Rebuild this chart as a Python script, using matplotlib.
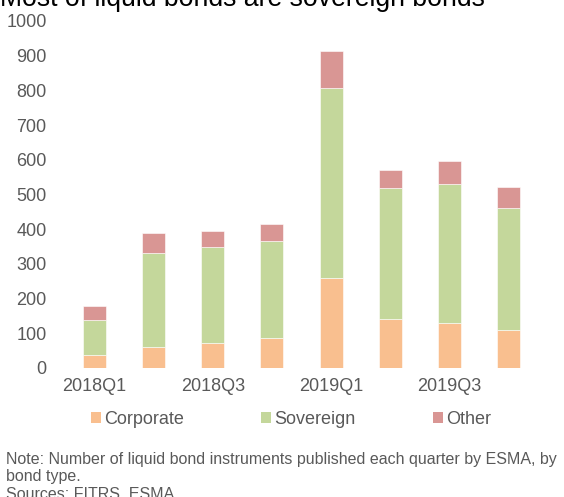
import numpy as np
import matplotlib.pyplot as plt
from matplotlib.patches import Patch

plt.rcParams['font.family'] = ['Liberation Sans', 'DejaVu Sans']

quarters = ['2018Q1', '2018Q2', '2018Q3', '2018Q4', '2019Q1', '2019Q2', '2019Q3', '2019Q4']
corporate = [38, 61, 72, 87, 258, 140, 130, 110]
sovereign = [99, 270, 277, 279, 550, 378, 399, 350]
other = [41, 57, 46, 49, 106, 52, 68, 61]

series = [('Corporate', corporate, '#F9BF8F'),
          ('Sovereign', sovereign, '#C4D79B'),
          ('Other', other, '#D99694')]

gray = '#595959'

fig = plt.figure(figsize=(5.64, 4.97), dpi=100)
ax = fig.add_axes([65 / 564, 1 - 368 / 497, (538 - 65) / 564, (368 - 21) / 497])

x = np.arange(len(quarters))
bottom = np.zeros(len(quarters))
for name, vals, color in series:
    ax.bar(x, vals, width=0.39, bottom=bottom, color=color, label=name,
           edgecolor='white', linewidth=0.4)
    bottom += np.array(vals)

ax.set_xlim(-0.5, len(quarters) - 0.5)
ax.set_ylim(0, 1000)
ax.set_yticks(range(0, 1001, 100))
ax.tick_params(axis='y', length=0, labelsize=13, labelcolor=gray, pad=13.3)

# every other quarter labelled
ax.set_xticks(x[::2])
ax.set_xticklabels(quarters[::2])
ax.tick_params(axis='x', length=0, labelsize=13, labelcolor=gray, pad=7.5)

for s in ax.spines.values():
    s.set_visible(False)

fig.text(0.0, 1 - 6 / 497, 'Most of liquid bonds are sovereign bonds',
         fontsize=19.2, color='black', ha='left', va='baseline')

handles = [Patch(facecolor=c, edgecolor='none') for _, _, c in series]
fig.legend(handles, [n for n, _, _ in series], loc='center',
           bbox_to_anchor=(291 / 564, 1 - 419 / 497), ncol=3, frameon=False,
           fontsize=13, labelcolor=gray, handlelength=0.55, handleheight=0.55,
           handletextpad=0.2, columnspacing=4.25)

notes = ['Note: Number of liquid bond instruments published each quarter by ESMA, by',
         'bond type.',
         'Sources: FITRS, ESMA']
for i, line in enumerate(notes):
    fig.text(6 / 564, 1 - (464 + 17.5 * i) / 497, line,
             fontsize=11.5, color=gray, ha='left', va='baseline')

fig.savefig('out.png', dpi=100)
